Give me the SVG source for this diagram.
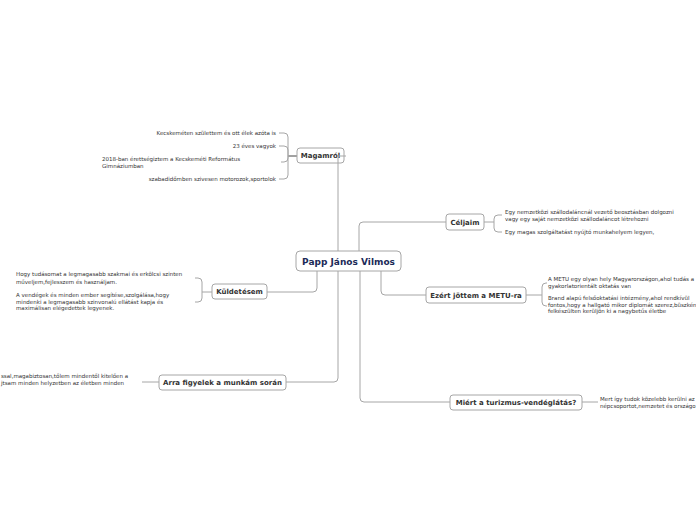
<svg xmlns="http://www.w3.org/2000/svg" width="696" height="520" viewBox="0 0 696 520">
<style>
.bg{fill:#ffffff}
.node rect{fill:#ffffff;stroke:#a6a6a6;stroke-width:1}
.lbl{font-family:"DejaVu Sans",Verdana,sans-serif;font-weight:bold;font-size:7px;fill:#333333;text-anchor:middle}
.root{font-family:"DejaVu Sans",Verdana,sans-serif;font-weight:bold;font-size:9px;fill:#1b2a58;text-anchor:middle}
.sm{font-family:"DejaVu Sans",Verdana,sans-serif;font-size:5.5px;fill:#333333}
.end{text-anchor:end}
.c{fill:none;stroke:#a6a6a6;stroke-width:1}
.d{fill:none;stroke:#444444;stroke-width:1}
</style>
<rect class="bg" x="0" y="0" width="696" height="520"/>
<g id="connectors">
<path class="c" d="M359,251 V226 Q359,222 363,222 H446"/>
<path class="c" d="M381,271 V291 Q381,295 385,295 H426"/>
<path class="c" d="M360,271 V398 Q360,402 364,402 H450"/>
<path class="c" d="M317,271 V288 Q317,292 313,292 H267"/>
<path class="c" d="M338,271 V378 Q338,382 334,382 H286"/>
<path class="c" d="M159,382 H142"/>
<path class="d" d="M297,156 H288"/>
<path class="c" d="M288,156 V137 Q288,133 284,133 H279"/>
<path class="c" d="M288,156 V150 Q288,146 284,146 H279"/>
<path class="c" d="M288,156 V158 Q288,162 284,162 H281"/>
<path class="c" d="M288,156 V175 Q288,179 284,179 H279"/>
<path class="c" d="M212,292 H202 M202,292 V282 Q202,278 198,278 H195 M202,292 V298 Q202,302 198,302 H195"/>
<path class="c" d="M484,222 H494 M494,222 V219 Q494,215 498,215 H502 M494,222 V228 Q494,232 498,232 H502"/>
<path class="c" d="M526,295 H542 M542,295 V287 Q542,283 546,283 H547 M542,295 V302 Q542,306 546,306 H547"/>
<path class="c" d="M582,402 H598"/>
</g>
<g id="root">
<rect class="node" x="296" y="251" width="105" height="20" rx="4" fill="#fff" stroke="#a6a6a6"/>
<text class="root" x="348.5" y="264.5">Papp János Vilmos</text>
</g>
<g id="magamrol" class="node">
<rect x="297" y="148" width="47" height="15" rx="3"/>
<text class="lbl" x="320.5" y="158.3">Magamról</text>
</g>
<path class="c" d="M338,251 V156 H346"/>
<g id="celjaim" class="node">
<rect x="446" y="214" width="38" height="16" rx="3"/>
<text class="lbl" x="465" y="224.5">Céljaim</text>
</g>
<g id="ezert" class="node">
<rect x="426" y="287" width="100" height="16" rx="3"/>
<text class="lbl" x="476" y="297.5">Ezért jöttem a METU-ra</text>
</g>
<g id="miert" class="node">
<rect x="450" y="395" width="132" height="15" rx="3"/>
<text class="lbl" x="516" y="405">Miért a turizmus-vendéglátás?</text>
</g>
<g id="kuldetesem" class="node">
<rect x="212" y="284" width="55" height="15" rx="3"/>
<text class="lbl" x="239.5" y="294">Küldetésem</text>
</g>
<g id="arra" class="node">
<rect x="159" y="375" width="127" height="15" rx="3"/>
<text class="lbl" x="222.5" y="385">Arra figyelek a munkám során</text>
</g>
<g id="magamrol-items">
<text class="sm end" x="276" y="135">Kecskeméten születtem és ott élek azóta is</text>
<text class="sm end" x="276" y="148">23 éves vagyok</text>
<text class="sm" x="102" y="161">2018-ban érettségiztem a Kecskeméti Református</text>
<text class="sm" x="102" y="168">Gimnáziumban</text>
<text class="sm end" x="276" y="181">szabadidőmben szivesen motorozok,sportolok</text>
</g>
<g id="kuldetesem-items">
<text class="sm" x="16" y="276">Hogy tudásomat a legmagasabb szakmai és erkölcsi szinten</text>
<text class="sm" x="16" y="283.5">műveljem,fejlesszem és használjam.</text>
<text class="sm" x="16" y="297">A vendégek és minden ember segítése,szolgálása,hogy</text>
<text class="sm" x="16" y="303.5">mindenki a legmagasabb szinvonalú ellátást kapja és</text>
<text class="sm" x="16" y="310">maximálisan elégedettek legyenek.</text>
</g>
<g id="arra-items">
<text class="sm" x="1" y="378">ssal,magabiztosan,tőlem mindentől kitelően a</text>
<text class="sm" x="1" y="385">jtsam minden helyzetben az életben minden</text>
</g>
<g id="celjaim-items">
<text class="sm" x="505" y="214">Egy nemzetközi szállodaláncnál vezető beosztásban dolgozni</text>
<text class="sm" x="505" y="221">vagy egy saját nemzetközi szállodaláncot létrehozni</text>
<text class="sm" x="505" y="234">Egy magas szolgáltatást nyújtó munkahelyem legyen,</text>
</g>
<g id="ezert-items">
<text class="sm" x="548" y="281">A METU  egy olyan hely Magyarországon,ahol tudás a</text>
<text class="sm" x="548" y="287.5">gyakorlatorientált oktatás van</text>
<text class="sm" x="548" y="300">Brand alapú felsőoktatási intézmény,ahol rendkívül</text>
<text class="sm" x="548" y="306.5">fontos,hogy a hallgató mikor diplomát szerez,büszkén</text>
<text class="sm" x="548" y="313">felkészülten kerüljön ki a nagybetűs életbe</text>
</g>
<g id="miert-items">
<text class="sm" x="600" y="401">Mert így tudok közelebb kerülni az</text>
<text class="sm" x="600" y="408">népcsoportot,nemzetet és országo</text>
</g>
</svg>
